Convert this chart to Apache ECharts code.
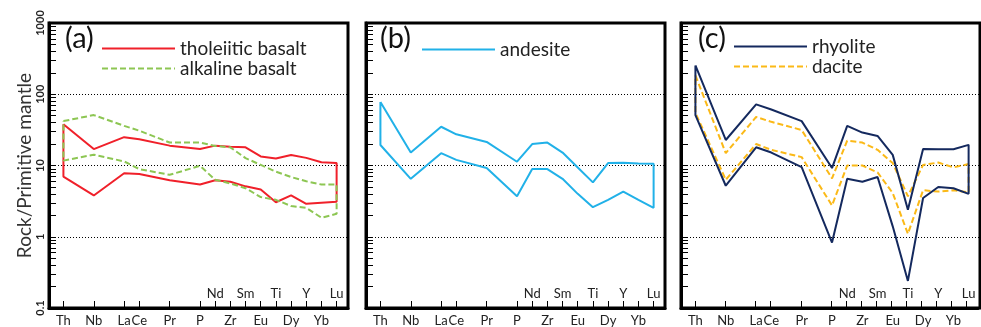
<!DOCTYPE html>
<html>
<head>
<meta charset="utf-8">
<title>spider diagram</title>
<script src="https://cdn.jsdelivr.net/npm/echarts@6/dist/echarts.min.js"></script>
<style>
	html, body { margin: 0; padding: 0; background: #fff; }
	#chart { width: 981px; height: 327px; }
</style>
</head>
<body>
<div id="chart"></div>
<script>
	//elements along the x axis and where they sit on it
	var elements = ['Th', 'Nb', 'La', 'Ce', 'Pr', 'P', 'Nd', 'Zr', 'Sm', 'Eu', 'Ti', 'Dy', 'Y', 'Yb', 'Lu'];
	var elem_pos = [0, 2, 4, 5, 7, 9, 10, 11, 12, 13, 14, 15, 16, 17, 18];
	//names printed in the upper row, the rest go below the axis
	var top_row = ['Nd', 'Sm', 'Ti', 'Y', 'Lu'];

	//(a) basalt
	var thol_upper = [38, 17, 25, 23.3, 19, 17, 19, 18.3, 18, 13.4, 12.5, 14, 12.8, 11.1, 10.8];
	var thol_lower = [7.0, 3.8, 7.8, 7.6, 6.2, 5.4, 6.2, 5.9, 5.1, 4.6, 3.05, 3.8, 2.9, 3.0, 3.1];
	var alk_upper = [42, 51, 36, 30.8, 21, 21, 18.8, 18, 12.7, 10.2, 8.2, 6.9, 6.0, 5.4, 5.4];
	var alk_lower = [11.7, 14.2, 11.4, 8.9, 7.4, 9.9, 6.3, 5.6, 4.8, 3.6, 3.3, 2.7, 2.55, 1.85, 2.1];
	//(b) andesite
	var and_upper = [78, 15.2, 35, 27.4, 21.4, 11.3, 20, 21, 15.2, 9.4, 5.8, 10.8, 10.9, 10.7, 10.6];
	var and_lower = [19.4, 6.5, 14.9, 12, 9.2, 3.7, 8.9, 8.9, 6.5, 4.0, 2.6, 3.3, 4.3, 3.3, 2.55];
	//(c) rhyolite, dacite
	var rhy_upper = [254, 22.8, 72, 61, 42, 9.2, 36, 29, 26, 14.1, 2.4, 17.1, 16.9, 16.9, 19.5];
	var rhy_lower = [51, 5.2, 18, 15.2, 9.5, 0.83, 6.5, 5.9, 6.9, 1.4, 0.24, 3.5, 5.0, 4.8, 4.0];
	var dac_upper = [184, 14.9, 48, 41, 31.5, 6.6, 22.3, 21, 16.6, 10.8, 3.7, 10.2, 11, 9.4, 10.5];
	var dac_lower = [55, 6.3, 20, 16.6, 13.1, 2.75, 10, 10, 8.0, 4.1, 1.1, 4.5, 4.3, 4.5, 4.2];

	var font = 'Lato, "Open Sans", sans-serif';
	var grid_left = [49, 366, 681];

	//upper curve left to right, lower curve back, closed at Th
	function field(upper, lower) {
		var pts = [];
		for(var i = 0; i < elem_pos.length; i++) {
			pts.push([elem_pos[i], upper[i]]);
		}
		for(var j = elem_pos.length - 1; j >= 0; j--) {
			pts.push([elem_pos[j], lower[j]]);
		}
		pts.push([elem_pos[0], upper[0]]);
		return pts;
	}

	function pos_of(names) {
		var out = [];
		for(var i = 0; i < elements.length; i++) {
			if(names.indexOf(elements[i]) >= 0) out.push(elem_pos[i]);
		}
		return out;
	}

	function name_of(v) {
		return elements[elem_pos.indexOf(v)];
	}

	function no_text() {
		return '';
	}

	var bottom_names = elements.filter(function(e) { return top_row.indexOf(e) < 0; });

	//minor ticks of the log axis, drawn on a helper axis in log10 units
	var minor_ticks = [];
	for(var d = -1; d < 3; d++) {
		for(var k = 1; k < 10; k++) {
			minor_ticks.push(Math.log10(k) + d);
		}
	}
	minor_ticks.push(3);

	var grids = [], xAxes = [], yAxes = [];
	//data grids 0..2
	for(var g = 0; g < 3; g++) {
		grids.push({
			left: grid_left[g],
			top: 23,
			width: 299,
			height: 285,
			show: true,
			borderColor: '#000',
			borderWidth: 3
		});
		//lower row of names
		xAxes.push({
			type: 'value',
			gridIndex: g,
			position: 'bottom',
			min: -0.95,
			max: 18.75,
			axisLine: { show: false, onZero: false },
			splitLine: { show: false },
			axisTick: { show: false },
			axisLabel: {
				customValues: pos_of(bottom_names),
				formatter: name_of,
				margin: 6,
				fontSize: 13,
				color: '#222',
				fontFamily: font
			}
		});
		//upper row of names
		xAxes.push({
			type: 'value',
			gridIndex: g,
			position: 'bottom',
			min: -0.95,
			max: 18.75,
			axisLine: { show: false, onZero: false },
			splitLine: { show: false },
			axisTick: { show: false },
			axisLabel: {
				inside: true,
				customValues: pos_of(top_row),
				formatter: name_of,
				margin: 8,
				fontSize: 13,
				color: '#222',
				fontFamily: font
			}
		});
		//log scale
		yAxes.push({
			type: 'log',
			logBase: 10,
			gridIndex: g,
			position: 'left',
			min: 0.1,
			max: 1000,
			name: g == 0 ? 'Rock/Primitive mantle' : '',
			nameLocation: 'middle',
			nameRotate: 90,
			nameGap: 6,
			nameTextStyle: { fontSize: 19, color: '#333', fontFamily: font },
			axisLine: { show: false, onZero: false },
			axisTick: { show: false },
			splitLine: {
				show: true,
				lineStyle: { type: [1, 2], color: '#000', width: 1 }
			},
			axisLabel: {
				show: g == 0,
				rotate: 90,
				margin: 3,
				fontSize: 11,
				fontWeight: 'bold',
				color: '#222',
				fontFamily: font,
				formatter: function(v) {
					return String(v);
				}
			}
		});
	}

	//tick grids 3..5, laid over the data grids, one plain x and y axis each
	for(var t = 0; t < 3; t++) {
		grids.push({
			left: grid_left[t],
			top: 23,
			width: 299,
			height: 285
		});
		xAxes.push({
			type: 'value',
			gridIndex: 3 + t,
			min: -0.95,
			max: 18.75,
			axisLine: { show: true, onZero: false, lineStyle: { color: '#000', width: 3 } },
			splitLine: { show: true, lineStyle: { color: 'rgba(0,0,0,0)' } },
			axisLabel: { show: true, formatter: no_text },
			axisTick: {
				show: true,
				customValues: elem_pos,
				inside: true,
				length: 7,
				lineStyle: { color: '#000' }
			}
		});
		yAxes.push({
			type: 'value',
			gridIndex: 3 + t,
			position: 'left',
			min: -1,
			max: 3,
			axisLine: { show: true, onZero: false, lineStyle: { color: '#000', width: 3 } },
			splitLine: { show: true, lineStyle: { color: 'rgba(0,0,0,0)' } },
			axisLabel: { show: true, formatter: no_text },
			axisTick: {
				show: true,
				customValues: minor_ticks,
				inside: true,
				length: 7,
				lineStyle: { color: '#000' }
			}
		});
	}

	function line_series(name, g, upper, lower, color, type, z) {
		return {
			name: name,
			type: 'line',
			xAxisIndex: g * 2,
			yAxisIndex: g,
			data: field(upper, lower),
			symbol: 'none',
			color: color,
			z: z,
			lineStyle: { color: color, width: 2, type: type }
		};
	}

	var series = [
		line_series('tholeiitic basalt', 0, thol_upper, thol_lower, '#f0202a', 'solid', 2),
		line_series('alkaline basalt', 0, alk_upper, alk_lower, '#8dc653', [6, 3], 3),
		line_series('andesite', 1, and_upper, and_lower, '#21b1e8', 'solid', 2),
		line_series('rhyolite', 2, rhy_upper, rhy_lower, '#14295e', 'solid', 3),
		line_series('dacite', 2, dac_upper, dac_lower, '#fbb917', [6, 3], 2)
	];

	function legend_at(left, top, names) {
		return {
			left: left,
			top: top,
			orient: 'vertical',
			data: names,
			itemWidth: 73,
			itemHeight: 14,
			itemGap: 1,
			padding: 0,
			itemStyle: { opacity: 0 },
			textStyle: { fontSize: 19, color: '#222', fontFamily: font }
		};
	}

	function panel_title(left, text) {
		return {
			text: text,
			left: left,
			top: 24,
			padding: 0,
			textStyle: { fontSize: 29, fontWeight: 'normal', color: '#111', fontFamily: font }
		};
	}

	var myChart = echarts.init(document.getElementById('chart'), null, { renderer: 'canvas' });
	var option = {
		animation: false,
		backgroundColor: '#fff',
		title: [panel_title(65, '(a)'), panel_title(380, '(b)'), panel_title(698, '(c)')],
		legend: [
			legend_at(101, 39, ['tholeiitic basalt', 'alkaline basalt']),
			legend_at(421, 40, ['andesite']),
			legend_at(733, 37, ['rhyolite', 'dacite'])
		],
		grid: grids,
		xAxis: xAxes,
		yAxis: yAxes,
		series: series
	};
	myChart.setOption(option);
</script>
</body>
</html>
